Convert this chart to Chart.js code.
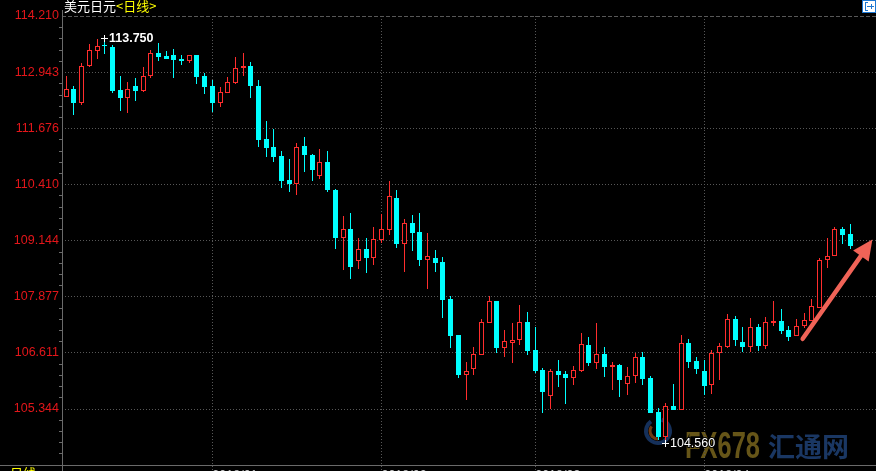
<!DOCTYPE html>
<html>
<head>
<meta charset="utf-8">
<script src="https://cdn.jsdelivr.net/npm/chart.js@4.4.1/dist/chart.umd.min.js"></script>
<style>
  html, body { margin: 0; padding: 0; background: #000; overflow: hidden; }
</style>
</head>
<body>
<canvas id="kline" width="876" height="492"></canvas>
<script>
// daily candles, USD/JPY, early Dec 2017 to late Apr 2018
const opens = [
  112.38, 112.57, 112.25, 113.07, 113.43, 113.56, 113.52, 112.53, 112.36, 112.62,
  112.51, 112.86, 113.37, 113.30, 113.32, 113.23, 113.19, 113.32, 112.85, 112.62,
  112.25, 112.47, 112.70, 113.04, 113.07, 112.64, 111.43, 111.25, 111.04, 110.50,
  110.42, 111.27, 111.08, 110.60, 110.91, 110.29, 109.20, 109.39, 108.68, 108.94,
  108.74, 109.16, 109.38, 110.09, 109.06, 109.53, 109.33, 108.70, 108.74, 108.65,
  107.81, 107.00, 106.10, 106.24, 106.55, 107.28, 107.77, 106.71, 106.83, 106.89,
  107.29, 106.66, 106.21, 105.63, 106.19, 106.12, 106.03, 106.19, 106.77, 106.37,
  106.57, 106.28, 106.32, 105.90, 106.08, 106.52, 106.03, 105.26, 104.70, 105.40,
  105.32, 106.82, 106.41, 106.19, 105.88, 106.59, 106.74, 107.36, 106.84, 106.74,
  107.18, 106.76, 107.27, 107.32, 107.11, 106.99, 107.22, 107.32, 107.62, 108.69,
  108.80, 109.41, 109.28
];
const highs = [
  112.85, 112.62, 113.14, 113.57, 113.68, 113.75, 113.55, 112.85, 112.71, 112.80,
  113.05, 113.45, 113.61, 113.41, 113.46, 113.32, 113.34, 113.33, 112.93, 112.76,
  112.60, 112.83, 113.28, 113.37, 113.16, 112.76, 111.85, 111.65, 111.15, 110.97,
  111.34, 111.47, 111.10, 111.20, 111.15, 110.31, 109.69, 109.75, 109.19, 109.19,
  109.44, 109.73, 110.48, 110.27, 109.62, 109.71, 109.75, 109.30, 108.92, 108.76,
  107.88, 107.00, 106.39, 106.73, 107.36, 107.88, 107.78, 107.11, 107.27, 107.68,
  107.52, 107.18, 106.25, 106.24, 106.43, 106.19, 106.30, 107.04, 106.95, 107.27,
  106.73, 106.39, 106.36, 106.28, 106.59, 106.63, 106.07, 105.35, 105.47, 105.89,
  107.00, 106.91, 106.52, 106.44, 106.66, 106.82, 107.47, 107.43, 107.18, 107.38,
  107.25, 107.41, 107.77, 107.59, 107.20, 107.36, 107.50, 107.83, 108.74, 109.19,
  109.44, 109.44, 109.51
];
const lows = [
  112.37, 111.97, 112.19, 113.06, 113.23, 113.35, 112.46, 112.06, 112.01, 112.29,
  112.49, 112.82, 113.19, 113.24, 112.81, 113.11, 113.15, 112.68, 112.45, 112.04,
  112.16, 112.46, 112.68, 112.86, 112.36, 111.25, 111.03, 110.91, 110.33, 110.24,
  110.16, 110.69, 110.48, 110.52, 110.24, 108.94, 108.47, 108.26, 108.49, 108.40,
  108.58, 109.08, 109.26, 108.96, 108.42, 108.90, 108.56, 108.04, 108.42, 107.38,
  106.71, 106.03, 105.53, 106.10, 106.55, 107.28, 106.60, 106.51, 106.37, 106.78,
  106.55, 106.15, 105.24, 105.34, 105.83, 105.45, 105.87, 106.17, 106.31, 106.24,
  106.06, 105.76, 105.61, 105.65, 105.92, 105.88, 105.24, 104.63, 104.56, 105.31,
  105.32, 106.26, 106.13, 105.64, 105.67, 105.98, 106.71, 106.75, 106.62, 106.62,
  106.64, 106.68, 107.20, 107.02, 106.86, 106.98, 107.17, 107.32, 107.62, 108.52,
  108.80, 109.06, 108.95
];
const closes = [
  112.57, 112.25, 113.07, 113.45, 113.54, 113.53, 112.51, 112.36, 112.57, 112.51,
  112.86, 113.37, 113.28, 113.24, 113.22, 113.19, 113.32, 112.83, 112.61, 112.25,
  112.49, 112.71, 113.03, 113.07, 112.63, 111.40, 111.23, 111.03, 110.48, 110.42,
  111.26, 111.06, 110.73, 110.91, 110.27, 109.20, 109.39, 108.54, 108.94, 108.74,
  109.17, 109.39, 110.14, 109.05, 109.53, 109.31, 108.69, 108.78, 108.63, 107.79,
  106.98, 106.10, 106.19, 106.57, 107.29, 107.77, 106.71, 106.86, 106.90, 107.29,
  106.64, 106.19, 105.72, 106.19, 106.10, 106.03, 106.21, 106.80, 106.37, 106.57,
  106.28, 106.32, 105.99, 106.08, 106.52, 106.01, 105.24, 104.70, 105.40, 105.31,
  106.82, 106.40, 106.23, 105.85, 106.59, 106.75, 107.36, 106.89, 106.74, 107.18,
  106.75, 107.29, 107.32, 107.10, 106.96, 107.22, 107.34, 107.65, 108.69, 108.80,
  109.41, 109.26, 109.02
];

// first trading day of each month (index into the arrays above)
const monthStarts = [19, 41, 61, 83];
const monthLabels = ["2018/01", "2018/02", "2018/03", "2018/04"];

// price axis labels
const priceTicks = [114.210, 112.943, 111.676, 110.410, 109.144, 107.877, 106.611, 105.344];

const upColor = "#ff2d2d";
const downColor = "#00ffff";
const gridColor = "#575757";
const axisColor = "#6a6a6a";

const candleColors = closes.map((c, i) => (c >= opens[i] ? upColor : downColor));
const bodyFill = closes.map((c, i) => (c >= opens[i] ? "#000000" : downColor));

const wickData = lows.map((l, i) => ({ x: i, y: [l, highs[i]] }));
const bodyData = opens.map((o, i) => ({ x: i, y: [o, closes[i]] }));

// snap candles to whole pixels so the thin red outlines stay sharp
const pixelSnap = {
  id: "pixelSnap",
  beforeDatasetsDraw(chart) {
    chart.data.datasets.forEach((ds, i) => {
      chart.getDatasetMeta(i).data.forEach((bar) => {
        bar.x = Math.floor(bar.x) + 0.5;
        bar.y = Math.round(bar.y);
        bar.base = Math.round(bar.base);
      });
    });
  },
};

// grid, axis lines, watermark (under the candles)
const backdrop = {
  id: "backdrop",
  beforeDatasetsDraw(chart) {
    const { ctx, chartArea, scales } = chart;
    const { left, right, top, bottom } = chartArea;
    ctx.save();

    // watermark
    const wx = right - 224;
    const wy = bottom - 18;
    ctx.lineWidth = 4;
    ctx.strokeStyle = "#15305a";
    ctx.beginPath();
    ctx.arc(wx + 6, wy - 16, 12, -0.4 * Math.PI, 1.3 * Math.PI);
    ctx.stroke();
    ctx.strokeStyle = "#6e3a12";
    ctx.lineWidth = 3;
    ctx.beginPath();
    ctx.arc(wx + 6, wy - 16, 8, 0.5 * Math.PI, 1.2 * Math.PI);
    ctx.stroke();

    ctx.font = "bold 36px 'Liberation Sans Narrow', 'Liberation Sans', Arial";
    ctx.textBaseline = "alphabetic";
    ctx.textAlign = "left";
    const fxW = ctx.measureText("FX678").width;
    const grad = ctx.createLinearGradient(wx + 33, 0, wx + 108, 0);
    grad.addColorStop(0, "#665518");
    grad.addColorStop(1, "#662410");
    ctx.fillStyle = grad;
    ctx.save();
    ctx.translate(wx + 33, wy + 11);
    ctx.scale(75 / fxW, 1);
    ctx.fillText("FX678", 0, 0);
    ctx.restore();

    ctx.font = "bold 27px 'Noto Sans CJK SC'";
    ctx.fillStyle = "#1a3763";
    ctx.fillText("汇通网", wx + 116, wy + 10);

    // horizontal price lines
    ctx.lineWidth = 1;
    ctx.strokeStyle = gridColor;
    priceTicks.forEach((p, i) => {
      const y = Math.round(scales.y.getPixelForValue(p)) + 0.5;
      ctx.setLineDash(i === 0 ? [4, 2] : [1, 2]);
      ctx.beginPath();
      ctx.moveTo(left, y);
      ctx.lineTo(right, y);
      ctx.stroke();
    });

    // month lines
    ctx.setLineDash([1, 2]);
    monthStarts.forEach((m) => {
      const x = Math.floor(scales.x.getPixelForValue(m)) + 0.5;
      ctx.beginPath();
      ctx.moveTo(x, top);
      ctx.lineTo(x, chart.height);
      ctx.stroke();
    });
    ctx.setLineDash([]);

    // axis frame
    ctx.strokeStyle = axisColor;
    ctx.beginPath();
    ctx.moveTo(left + 0.5, 10);
    ctx.lineTo(left + 0.5, chart.height);
    ctx.moveTo(0, bottom + 0.5);
    ctx.lineTo(right, bottom + 0.5);
    ctx.stroke();

    // small marks on the price axis
    const step = priceTicks[0] - priceTicks[1];
    ctx.beginPath();
    for (let k = 0; k < priceTicks.length; k++) {
      for (let j = 1; j < 5; j++) {
        const y = Math.round(scales.y.getPixelForValue(priceTicks[k] - (step * j) / 5)) + 0.5;
        if (y > bottom) continue;
        ctx.moveTo(left - 3, y);
        ctx.lineTo(left, y);
      }
    }
    ctx.stroke();
    ctx.restore();
  },

  afterDatasetsDraw(chart) {
    const { ctx, scales, chartArea } = chart;
    ctx.save();

    // highest / lowest marks
    const hi = Math.max(...highs);
    const lo = Math.min(...lows);
    const hiIdx = highs.indexOf(hi);
    const loIdx = lows.indexOf(lo);
    ctx.textBaseline = "middle";
    ctx.textAlign = "left";
    ctx.lineWidth = 2;
    ctx.strokeStyle = "#000";
    ctx.fillStyle = "#ffffff";
    const marks = [
      [hiIdx, hi, 2, "bold 12.5px 'Liberation Sans', Arial"],
      [loIdx, lo, 0, "12.5px 'Liberation Sans', Arial"],
    ];
    marks.forEach(([idx, val, dy, font]) => {
      const x = Math.floor(scales.x.getPixelForValue(idx));
      const y = Math.round(scales.y.getPixelForValue(val) + dy);
      ctx.fillRect(x - 3, y, 7, 1);
      ctx.fillRect(x, y - 3, 1, 7);
      ctx.font = font;
      const txt = val.toFixed(3);
      ctx.strokeText(txt, x + 5, y + 0.5);
      ctx.fillText(txt, x + 5, y + 0.5);
    });

    // arrow
    const sx = scales.x.getPixelForValue(95.8);
    const sy = scales.y.getPixelForValue(106.92);
    const tx = scales.x.getPixelForValue(104.87);
    const ty = scales.y.getPixelForValue(109.16);
    const len = Math.hypot(tx - sx, ty - sy);
    const ux = (tx - sx) / len;
    const uy = (ty - sy) / len;
    const bx = tx - ux * 20;
    const by = ty - uy * 20;
    ctx.strokeStyle = "#f06357";
    ctx.fillStyle = "#f06357";
    ctx.lineWidth = 4.5;
    ctx.lineCap = "round";
    ctx.beginPath();
    ctx.moveTo(sx, sy);
    ctx.lineTo(bx + ux * 2, by + uy * 2);
    ctx.stroke();
    ctx.beginPath();
    ctx.moveTo(tx, ty);
    ctx.lineTo(bx - uy * 9.5, by + ux * 9.5);
    ctx.lineTo(bx + uy * 9.5, by - ux * 9.5);
    ctx.closePath();
    ctx.fill();

    // title
    ctx.font = "13px 'Noto Sans CJK SC'";
    ctx.textBaseline = "middle";
    ctx.fillStyle = "#ffffff";
    ctx.fillText("美元日元", chartArea.left + 2, 6.5);
    const tw = ctx.measureText("美元日元").width;
    ctx.fillStyle = "#ffff00";
    ctx.fillText("<日线>", chartArea.left + 2 + tw, 6.5);

    // bottom-left period tag
    ctx.fillStyle = "#ffff00";
    ctx.textBaseline = "top";
    ctx.fillText("日线", 10, chartArea.bottom + 2);

    // top-right button
    ctx.fillStyle = "#1e78d2";
    ctx.fillRect(862, 0, 14, 13);
    ctx.fillStyle = "#ffffff";
    ctx.fillRect(863, 1, 12, 11);
    ctx.fillStyle = "#1e78d2";
    ctx.fillRect(865, 2, 1, 9);
    ctx.fillRect(865, 2, 3, 1);
    ctx.fillRect(865, 10, 3, 1);
    ctx.fillRect(867, 6, 7, 1);
    ctx.fillRect(871, 4, 1, 5);
    ctx.restore();
  },
};

const chart = new Chart(document.getElementById("kline"), {
  type: "bar",
  data: {
    datasets: [
      {
        label: "wick",
        data: wickData,
        backgroundColor: candleColors,
        borderWidth: 0,
        barThickness: 1,
        inflateAmount: 0,
        grouped: false,
        order: 2,
      },
      {
        label: "body",
        data: bodyData,
        backgroundColor: bodyFill,
        borderColor: candleColors,
        borderWidth: 1,
        borderSkipped: false,
        barThickness: 5,
        inflateAmount: 0,
        grouped: false,
        order: 1,
      },
    ],
  },
  options: {
    responsive: false,
    animation: false,
    layout: { padding: { top: 16, left: 0, right: 0, bottom: 0 } },
    plugins: {
      legend: { display: false },
      tooltip: { enabled: false },
    },
    scales: {
      x: {
        type: "linear",
        min: -0.56,
        max: 105.34,
        offset: false,
        grid: { display: false, drawTicks: false },
        border: { display: false },
        afterBuildTicks: (scale) => {
          scale.ticks = monthStarts.map((v) => ({ value: v }));
        },
        afterFit: (scale) => {
          scale.height = 27;
        },
        ticks: {
          align: "start",
          autoSkip: false,
          maxRotation: 0,
          padding: 3,
          color: "#c8c8c8",
          font: { family: "'Liberation Sans', Arial", size: 12.5 },
          callback: (v, i) => monthLabels[i],
        },
      },
      y: {
        position: "left",
        min: 104.07,
        max: 114.21,
        grid: { display: false, drawTicks: false },
        border: { display: false },
        afterBuildTicks: (scale) => {
          scale.ticks = priceTicks.map((v) => ({ value: v }));
        },
        afterFit: (scale) => {
          scale.width = 62;
        },
        ticks: {
          padding: 3,
          color: "#e3161a",
          font: { family: "'Liberation Sans', Arial", size: 12.5 },
          callback: (v) => Number(v).toFixed(3),
        },
      },
    },
  },
  plugins: [pixelSnap, backdrop],
});
</script>
</body>
</html>
